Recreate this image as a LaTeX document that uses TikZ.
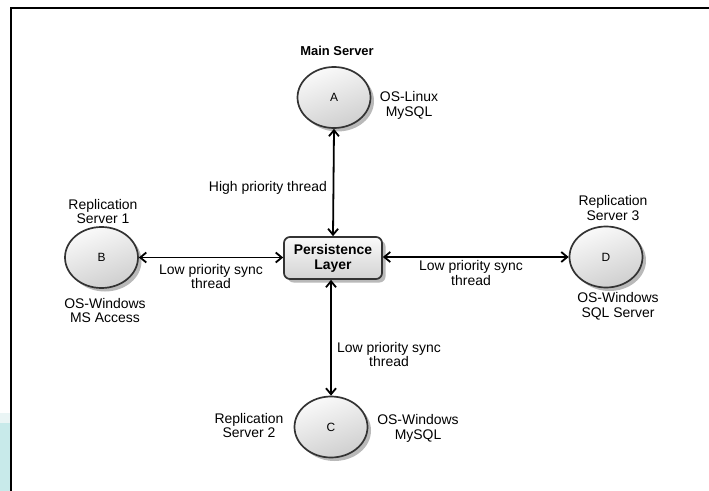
\documentclass[tikz,border=0pt]{standalone}
\usepackage{fontspec}
\setmainfont{Liberation Sans}
\usetikzlibrary{shapes.geometric,shadows,arrows.meta}
\definecolor{tealpatch}{HTML}{C8EAEA}
\definecolor{tealfade}{HTML}{EAF5F5}
\definecolor{rimgray}{HTML}{333333}
\tikzset{
  server/.style={ellipse, draw=rimgray, line width=1.7bp,
    minimum width=73bp, minimum height=61bp, inner sep=0pt,
    top color=gray!4, bottom color=gray!38, shading angle=20,
    drop shadow={opacity=0.55, shadow xshift=3.5bp, shadow yshift=-3.5bp},
    font=\fontsize{12}{14}\selectfont},
  layerbox/.style={rectangle, rounded corners=6bp, draw=rimgray, line width=1.7bp,
    minimum width=98bp, minimum height=42bp, align=center, inner sep=1bp,
    top color=gray!4, bottom color=gray!35,
    drop shadow={opacity=0.55, shadow xshift=3.5bp, shadow yshift=-3.5bp},
    font=\bfseries\fontsize{14}{15}\selectfont},
  caption/.style={align=center, inner sep=0pt, font=\fontsize{14}{15}\selectfont},
  link/.style={line width=1.8bp, {Straight Barb[length=6bp,width=10bp,line width=1.8bp]}-{Straight Barb[length=6bp,width=10bp,line width=1.8bp]}}
}
\begin{document}
\begin{tikzpicture}[x=1bp, y=-1bp]
  \useasboundingbox (0,0) rectangle (709,491);
  \fill[white] (0,0) rectangle (709,491);
  % teal band at the lower left edge
  \fill[tealfade] (0,413) rectangle (10,423);
  \fill[tealpatch] (0,423) rectangle (10,491);
  % frame
  \draw[line width=2.2bp, black] (11,491) -- (11,8) -- (709,8);

  % servers and the persistence layer
  \node[server] (A) at (334,97.5) {A};
  \node[server] (B) at (101.5,257.5) {B};
  \node[server] (D) at (606,257) {D};
  \node[server] (C) at (331,427) {C};
  \node[layerbox] (P) at (333,258) {Persistence\\Layer};

  % server captions
  \node[caption, font=\bfseries\fontsize{13}{15}\selectfont] (tA) at (337,51) {Main Server};
  \node[caption] (oA) at (409,105.5) {OS-Linux\\MySQL};
  \node[caption] (tB) at (103,211.5) {Replication\\Server 1};
  \node[caption] (oB) at (105,310.5) {OS-Windows\\MS Access};
  \node[caption] (tD) at (613,208) {Replication\\Server 3};
  \node[caption] (oD) at (618,306.5) {OS-Windows\\SQL Server};
  \node[caption] (tC) at (249,425.5) {Replication\\Server 2};
  \node[caption] (oC) at (418,428) {OS-Windows\\MySQL};

  % threads
  \draw[link] (A.south) -- (P.north);
  \draw[link] (B.east) -- (P.west |- B.east);
  \draw[link] (P.east |- D.west) -- (D.west);
  \draw[link] (P.south -| C.north) -- (C.north);

  \node[caption, anchor=east] (lA) at (327,188) {High priority thread};
  \node[caption] (lB) at (211,276.5) {Low priority sync\\thread};
  \node[caption] (lD) at (471,273) {Low priority sync\\thread};
  \node[caption] (lC) at (389,354.5) {Low priority sync\\thread};
\end{tikzpicture}
\end{document}
